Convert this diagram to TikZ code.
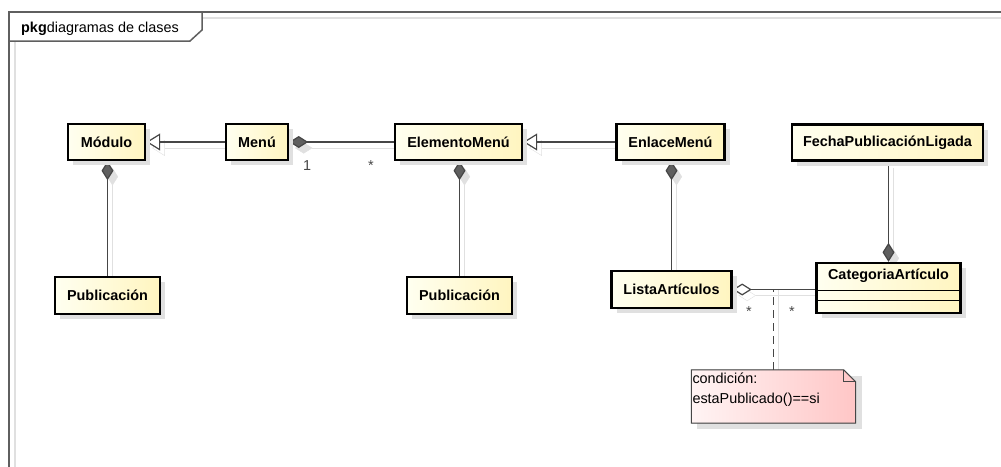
\documentclass[tikz,border=0pt]{standalone}
\usepackage{fontspec}
\setmainfont{Liberation Sans}
\usetikzlibrary{arrows.meta,shadows,backgrounds}
\definecolor{linec}{RGB}{70,70,70}
\definecolor{framec}{RGB}{95,95,95}
\definecolor{shadowc}{RGB}{224,224,224}
\definecolor{classL}{RGB}{255,255,240}
\definecolor{classR}{RGB}{255,245,192}
\definecolor{noteL}{RGB}{255,244,244}
\definecolor{noteR}{RGB}{255,198,198}
\definecolor{diamc}{RGB}{95,95,95}

\begin{document}
\begin{tikzpicture}[x=1pt,y=-1pt,
  txt/.style={font=\fontsize{14.4}{20}\selectfont},
  classbox/.style={draw=black, line width=2.4pt, left color=classL, right color=classR,
    minimum height=36pt, inner sep=0pt, font=\fontsize{14.4}{16}\selectfont\bfseries,
    drop shadow={shadow xshift=5pt, shadow yshift=-5pt, fill=shadowc, opacity=1}},
  gen/.style={draw=linec, line width=1.2pt,
    -{Triangle[length=14pt,width=17pt,fill=white]},
    preaction={draw=shadowc, transform canvas={shift={(5pt,-6pt)}}}},
  comp/.style={draw=linec, line width=1.2pt,
    -{Diamond[length=19pt,width=12pt,fill=diamc]},
    preaction={draw=shadowc, -{Diamond[length=19pt,width=12pt,fill=shadowc]},
      transform canvas={shift={(5pt,-6pt)}}}},
  agg/.style={draw=linec, line width=1.2pt,
    -{Diamond[length=19pt,width=12pt,fill=white]},
    preaction={draw=shadowc, transform canvas={shift={(5pt,-6pt)}}}},
  anchorline/.style={draw=linec, line width=1.1pt, dash pattern=on 8pt off 5pt,
    preaction={draw=shadowc, solid, transform canvas={shift={(5pt,0pt)}}}},
  mult/.style={txt, inner sep=0pt, text=linec}
]
\useasboundingbox (0,0) rectangle (1001,466);

% package frame with its shadow and name tab
\begin{pgfonlayer}{background}
  \draw[shadowc, line width=1.2pt] (15,18) rectangle (1060,520);
  \draw[framec, line width=1.5pt] (9,12) rectangle (1050,510);
  \draw[framec, line width=1.5pt, fill=white] (9,12) -- (202,12) -- (202,30) -- (190,41) -- (9,41) -- cycle;
\end{pgfonlayer}
\node[txt, anchor=base west, inner sep=0pt] (pkg) at (21,32) {\textbf{pkg}diagramas de clases};

% classes
\node[classbox, minimum width=77pt]  (mod)   at (106.5,142) {Módulo};
\node[classbox, minimum width=62pt]  (menu)  at (257,142)   {Menú};
\node[classbox, minimum width=127pt] (elem)  at (458.5,142) {ElementoMenú};
\node[classbox, minimum width=191pt] (fecha) at (887.5,142.5) {FechaPublicaciónLigada};
\node[classbox, minimum width=108pt] (enl)   at (670.5,142) {EnlaceMenú};
\node[classbox, minimum width=105pt, minimum height=37pt] (pub1) at (107.5,295.5) {Publicación};
\node[classbox, minimum width=105pt, minimum height=37pt] (pub2) at (459.5,295.5) {Publicación};
\node[classbox, minimum width=120pt, minimum height=37pt] (lista) at (671.5,289.5) {ListaArtículos};
\node[classbox, minimum width=144pt, minimum height=50pt] (cat) at (888.5,288) {};
\node[font=\fontsize{14.4}{16}\selectfont\bfseries, inner sep=0pt] (catname) at ([yshift=-14pt]cat.north) {CategoriaArtículo};
\draw[black, line width=1.2pt] ([yshift=-29pt]cat.north west) -- ([yshift=-29pt]cat.north east);
\draw[black, line width=1.2pt] ([yshift=-39pt]cat.north west) -- ([yshift=-39pt]cat.north east);

% note
\node[minimum width=164pt, minimum height=53pt, inner sep=0pt] (note) at (773.5,396.5) {};
\fill[shadowc] ([shift={(6pt,-6pt)}]note.north west) -- ([shift={(6pt,-6pt)}]note.north east)
  -- ([shift={(6pt,-6pt)}]note.south east) -- ([shift={(6pt,-6pt)}]note.south west) -- cycle;
\filldraw[draw=linec, line width=1pt, left color=noteL, right color=noteR]
  (note.north west) -- ([xshift=-12pt]note.north east) -- ([yshift=-12pt]note.north east)
  -- (note.south east) -- (note.south west) -- cycle;
\draw[linec, line width=1pt] ([xshift=-12pt]note.north east) -- ([shift={(-12pt,-12pt)}]note.north east)
  -- ([yshift=-12pt]note.north east);
\node[txt, anchor=north west, inner sep=0pt, align=left] (notetxt) at ([shift={(1pt,-3pt)}]note.north west)
  {condición:\\estaPublicado()==si};

% relations
\coordinate (cond) at (note.north |- lista.east);
\begin{pgfonlayer}{background}
  \draw[gen]  (menu.west) -- (mod.east);
  \draw[gen]  (enl.west) -- (elem.east);
  \draw[comp] (elem.west) -- (menu.east);
  \draw[comp] (pub1.north) -- (pub1.north |- mod.south);
  \draw[comp] (pub2.north) -- (pub2.north |- elem.south);
  \draw[comp] (lista.north) -- (lista.north |- enl.south);
  \draw[comp] (cat.north |- fecha.south) -- (cat.north);
  \draw[agg]  (lista.east -| cat.west) -- (lista.east);
  \draw[anchorline] (note.north) -- (cond);
\end{pgfonlayer}

% multiplicities
\node[mult] (m1) at (307,166) {1};
\node[mult] (m2) at (371,166) {*};
\node[mult] (m3) at (749,312) {*};
\node[mult] (m4) at (792,312) {*};
\end{tikzpicture}
\end{document}
